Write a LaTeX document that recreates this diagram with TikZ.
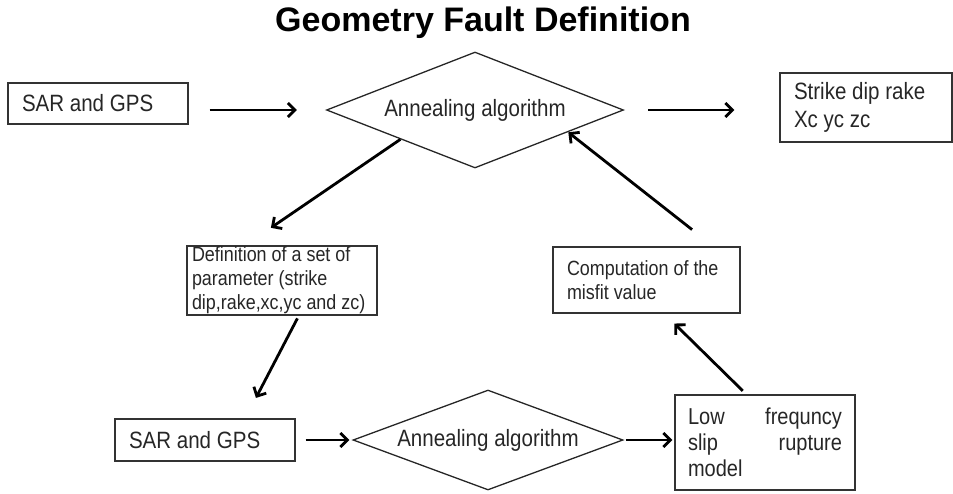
\documentclass[tikz,border=0pt]{standalone}
\usepackage{fontspec}
\setmainfont{Liberation Sans}[FakeStretch=0.87]
\newfontfamily\titlefont{Liberation Sans}
\usetikzlibrary{shapes.geometric,arrows.meta}
\newcommand\mainsize{\fontsize{23.6}{28}\selectfont}
\newcommand\notesize{\fontsize{20.6}{24}\selectfont}
\begin{document}
\begin{tikzpicture}[x=1pt,y=-1pt,
    box/.style={draw=black!80,line width=1.4pt,inner ysep=0pt,align=flush left,text=black!85},
    decision/.style={diamond,aspect=2.5,draw=black!85,line width=1.3pt,inner sep=0pt,
      text=black!85,font=\mainsize},
    flow/.style={line width=2.8pt,-{Straight Barb[length=7pt,width=14pt]}}]
  \useasboundingbox (0,0) rectangle (953,493);
  \node[font=\titlefont\fontsize{34}{40}\selectfont\bfseries] (title) at (483,23) {Geometry Fault Definition};
  \node[box,font=\mainsize,text width=152pt,inner xsep=14pt,minimum height=41pt] (sar) at (98,103.5) {SAR and GPS};
  \node[decision,minimum width=297pt,minimum height=116pt] (anneal) at (475,110) {Annealing algorithm};
  \node[box,font=\mainsize,text width=144pt,inner xsep=14pt,minimum height=69pt] (strike) at (866,107.5) {Strike dip rake\\Xc yc zc};
  \node[box,font=\notesize,text width=180pt,inner xsep=5pt,minimum height=69pt] (def) at (282,280.5) {Definition of a set of\\parameter (strike\\dip,rake,xc,yc and zc)};
  \node[box,font=\notesize,text width=159pt,inner xsep=14pt,minimum height=66pt] (comp) at (646.5,280) {Computation of the\\misfit value};
  \node[box,font=\mainsize,text width=152pt,inner xsep=14pt,minimum height=42pt] (sar2) at (205,440) {SAR and GPS};
  \node[decision,minimum width=270pt,minimum height=100pt] (decide) at (488,440) {Annealing algorithm};
  \node[box,font=\fontsize{23}{26}\selectfont,text width=154pt,inner xsep=13pt,minimum height=95pt,align=justify] (low) at (765,442.5) {Low frequncy\linebreak slip rupture\linebreak model};
  \begin{scope}[flow]
    \draw[shorten <=21pt,shorten >=29pt] (sar.east |- anneal.west) to (anneal.west);
    \draw[shorten <=24pt,shorten >=45pt] (anneal.east) to (strike.west |- anneal.east);
    \draw[shorten >=31pt] (anneal.south west) to ([xshift=59pt]def.north west);
    \draw[shorten <=3pt,shorten >=23pt] ([xshift=112.5pt]def.south west) to ([xshift=131pt]sar2.north west);
    \draw[shorten <=10pt,shorten >=3pt] (sar2.east) to (decide.west);
    \draw[shorten <=2pt,shorten >=2pt] (decide.east) to (low.west |- decide.east);
    \draw[shorten <=5pt,shorten >=14pt] ([xshift=72pt]low.north west) to ([xshift=112pt]comp.south west);
    \draw[shorten <=27pt] ([xshift=161pt]comp.north west) to ([xshift=18.75pt,yshift=7pt]anneal.south east);
  \end{scope}
\end{tikzpicture}
\end{document}
